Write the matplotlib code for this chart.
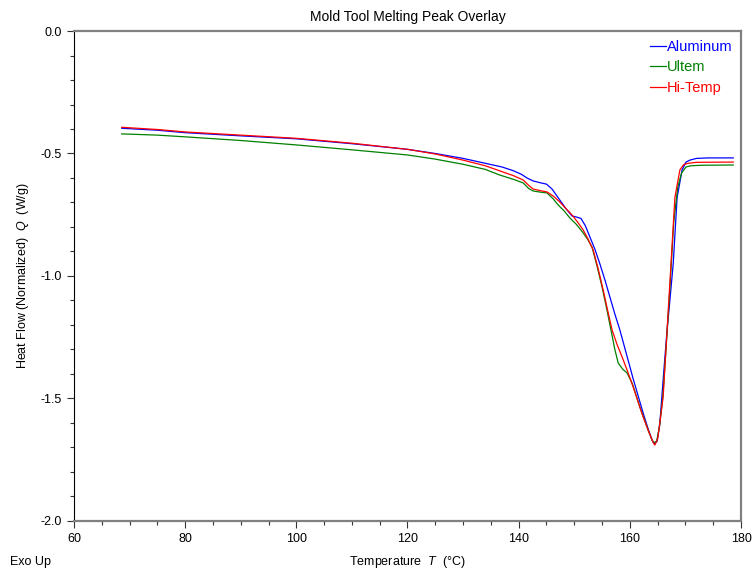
import matplotlib
matplotlib.use("Agg")
import matplotlib.pyplot as plt
from matplotlib.ticker import MultipleLocator

plt.rcParams['font.family'] = ['Liberation Sans', 'DejaVu Sans']
plt.rcParams['mathtext.fontset'] = 'custom'
plt.rcParams['mathtext.it'] = 'Liberation Sans:italic'
plt.rcParams['mathtext.rm'] = 'Liberation Sans'

alu_T = [68.6, 75, 80, 90, 100, 110, 120, 125, 130, 134, 137, 139, 140.5, 141.5, 142.6, 144, 145, 146,
         147.4, 148.5, 149.6, 150.5, 151.2, 152, 152.8, 153.7, 154.6, 155.5, 156.4, 157.3, 158.2, 159.4,
         160.6, 161.5, 162.4, 163.3, 164.0, 164.4, 164.9, 165.4, 166.0, 166.7, 167.2, 167.8, 168.5, 169.4,
         170.1, 170.8, 172, 174, 178.6]
alu_Q = [-0.397, -0.405, -0.415, -0.428, -0.44, -0.46, -0.483, -0.5, -0.52, -0.54, -0.555, -0.57, -0.585,
         -0.60, -0.612, -0.62, -0.625, -0.645, -0.69, -0.725, -0.755, -0.76, -0.765, -0.795, -0.84, -0.89,
         -0.95, -1.015, -1.085, -1.155, -1.22, -1.32, -1.42, -1.49, -1.56, -1.625, -1.67, -1.685, -1.675,
         -1.6, -1.42, -1.22, -1.1, -0.95, -0.68, -0.567, -0.535, -0.527, -0.52, -0.518, -0.518]

ult_T = [68.6, 75, 80, 90, 100, 110, 120, 125, 130, 134, 136.6, 139, 140.8, 141.8, 142.6, 144, 145.1,
         146.2, 147.1, 148.2, 149.2, 150.4, 151.6, 152.4, 153.2, 154.1, 155, 155.8, 156.6, 157.3, 157.9,
         158.7, 159.5, 160.4, 161.1, 161.8, 162.6, 163.3, 164.0, 164.3, 164.8, 165.3, 165.9, 166.5, 167.2,
         167.9, 168.6, 169.3, 170.1, 171, 173, 178.6]
ult_Q = [-0.42, -0.425, -0.432, -0.447, -0.465, -0.485, -0.506, -0.523, -0.544, -0.565, -0.588, -0.605,
         -0.62, -0.643, -0.653, -0.658, -0.661, -0.685, -0.71, -0.735, -0.763, -0.79, -0.824, -0.85, -0.882,
         -0.96, -1.045, -1.13, -1.22, -1.3, -1.355, -1.38, -1.396, -1.437, -1.485, -1.535, -1.585, -1.63,
         -1.67, -1.68, -1.675, -1.62, -1.5, -1.3, -1.05, -0.78, -0.64, -0.58, -0.555, -0.55, -0.548, -0.547]

hit_T = [68.6, 75, 80, 90, 100, 110, 120, 125, 130, 134, 136.6, 139, 140.8, 141.8, 142.6, 144, 145.1,
         146.3, 147.4, 148.5, 149.6, 150.6, 151.6, 152.5, 153.4, 154.3, 155.2, 156, 156.8, 157.7, 158.6,
         159.6, 160.6, 161.5, 162.4, 163.3, 164.2, 164.5, 165, 165.4, 166, 166.7, 167.4, 168.1, 169, 169.7,
         170.5, 172, 178.6]
hit_Q = [-0.393, -0.402, -0.412, -0.425, -0.438, -0.458, -0.483, -0.502, -0.527, -0.55, -0.571, -0.59,
         -0.608, -0.63, -0.645, -0.652, -0.657, -0.675, -0.698, -0.725, -0.751, -0.78, -0.812, -0.85, -0.894,
         -0.97, -1.057, -1.14, -1.22, -1.28, -1.33, -1.39, -1.453, -1.515, -1.576, -1.63, -1.68, -1.69,
         -1.665, -1.6, -1.49, -1.22, -0.95, -0.68, -0.567, -0.545, -0.54, -0.536, -0.535]

series = [("Aluminum", alu_T, alu_Q, "#0000ff"),
          ("Ultem", ult_T, ult_Q, "#008000"),
          ("Hi-Temp", hit_T, hit_Q, "#ff0000")]

fig = plt.figure(figsize=(7.54, 5.71), dpi=100)
ax = fig.add_axes([0.0981, 0.0876, 0.8847, 0.8581])

for name, T, Q, c in series:
    ax.plot(T, Q, color=c, lw=0.9, label=name)

ax.set_xlim(60, 180)
ax.set_ylim(-2.0, 0.0)
ax.xaxis.set_major_locator(MultipleLocator(20))
ax.xaxis.set_minor_locator(MultipleLocator(5))
ax.yaxis.set_major_locator(MultipleLocator(0.5))
ax.yaxis.set_minor_locator(MultipleLocator(0.1))
ax.yaxis.set_major_formatter(matplotlib.ticker.FormatStrFormatter('%.1f'))
ax.tick_params(which='major', direction='out', length=5, width=0.8, labelsize=9, colors='#333333', labelcolor='black')
ax.tick_params(which='minor', direction='out', length=3, width=0.8, colors='#333333')
ax.tick_params(axis='x', pad=4)

for s in ['top', 'right', 'bottom']:
    ax.spines[s].set_color('#808080')
    ax.spines[s].set_linewidth(1.6)
ax.spines['left'].set_color('black')
ax.spines['left'].set_linewidth(0.8)

ax.set_title("Mold Tool Melting Peak Overlay", fontsize=10, pad=7)
ax.set_xlabel(r"Temperature  $\mathit{T}$  (°C)", fontsize=9, labelpad=6)
ax.set_ylabel(r"Heat Flow (Normalized)  $\mathit{Q}$  (W/g)", fontsize=9, labelpad=7)

leg = ax.legend(loc='upper right', frameon=False, fontsize=10.5, handlelength=1.1, handletextpad=0.05,
                labelspacing=0.45, borderaxespad=0.2, labelcolor='linecolor')

fig.text(0.013, 0.005, "Exo Up", fontsize=9, ha='left', va='bottom')

fig.savefig("out.png", dpi=100)
